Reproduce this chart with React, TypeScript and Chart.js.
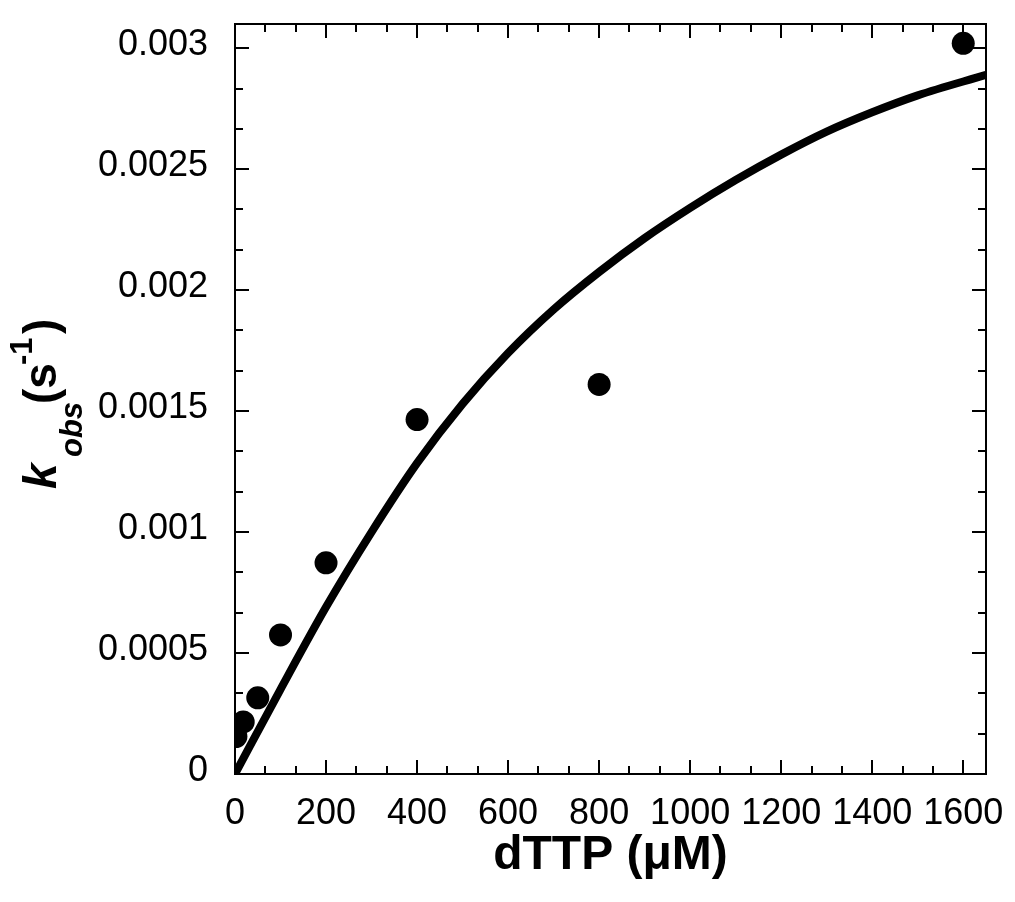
import React, { useEffect, useRef } from 'react';
import { Chart, registerables } from 'chart.js';

Chart.register(...registerables);

// Measured data (dTTP concentration in µM, k_obs in s^-1)
const dTTP = [2, 18, 50, 100, 200, 400, 800, 1600];
const kObs = [0.000155, 0.000215, 0.000315, 0.000575, 0.000873, 0.001465, 0.00161, 0.00302];

// Fitted curve
const fitX = [0, 100, 200, 300, 400, 500, 600, 700, 800, 900, 1000, 1100, 1200, 1300, 1400, 1500, 1650];
const fitY = [0, 0.00035, 0.00069, 0.001, 0.001285, 0.00153, 0.00174, 0.00192, 0.002075, 0.002215, 0.00234, 0.002455, 0.00256, 0.002655, 0.002735, 0.002805, 0.00289];

// Axis settings
const xMin = 0;
const xMax = 1650;
const xStep = 200;
const yMin = 0;
const yMax = 0.0031;
const yStep = 0.0005;

const xTitle = 'dTTP (\u03bcM)';
const yTitleMain = 'k';
const yTitleSub = 'obs';
const yTitleOpen = '(s';
const yTitleSup = '-1';
const yTitleClose = ')';

const FONT = '"Liberation Sans", Arial, Helvetica, sans-serif';

const framePlugin = {
  id: 'frameTicks',
  afterDatasetsDraw(chart: any) {
    const { ctx, chartArea: a, scales } = chart;
    const xs = scales.x;
    const ys = scales.y;
    ctx.save();
    ctx.strokeStyle = '#000';
    ctx.lineWidth = 2;
    ctx.strokeRect(a.left, a.top, a.right - a.left, a.bottom - a.top);
    const major = 14;
    const minor = 8;
    ctx.beginPath();
    const xt: number[] = xs.ticks.map((t: any) => t.value);
    const yt: number[] = ys.ticks.map((t: any) => t.value);
    const xStepV = xt[1] - xt[0];
    const yStepV = yt[1] - yt[0];
    xt.forEach((v) => {
      const p = Math.round(xs.getPixelForValue(v));
      ctx.moveTo(p, a.bottom);
      ctx.lineTo(p, a.bottom - major);
      ctx.moveTo(p, a.top);
      ctx.lineTo(p, a.top + major);
      for (let k = 1; k < 3; k++) {
        const m = v + (xStepV * k) / 3;
        if (m >= xs.max) continue;
        const q = Math.round(xs.getPixelForValue(m));
        ctx.moveTo(q, a.bottom);
        ctx.lineTo(q, a.bottom - minor);
        ctx.moveTo(q, a.top);
        ctx.lineTo(q, a.top + minor);
      }
    });
    yt.forEach((v) => {
      const p = Math.round(ys.getPixelForValue(v));
      ctx.moveTo(a.left, p);
      ctx.lineTo(a.left + major, p);
      ctx.moveTo(a.right, p);
      ctx.lineTo(a.right - major, p);
      for (let k = 1; k < 3; k++) {
        const m = v + (yStepV * k) / 3;
        if (m >= ys.max) continue;
        const q = Math.round(ys.getPixelForValue(m));
        ctx.moveTo(a.left, q);
        ctx.lineTo(a.left + minor, q);
        ctx.moveTo(a.right, q);
        ctx.lineTo(a.right - minor, q);
      }
    });
    ctx.stroke();

    // X axis title
    ctx.fillStyle = '#000';
    ctx.font = `bold 48px ${FONT}`;
    ctx.textAlign = 'center';
    ctx.textBaseline = 'alphabetic';
    ctx.fillText(xTitle, (a.left + a.right) / 2, 869);

    // Y axis title (rotated)
    const cy = 400;
    ctx.translate(56, cy);
    ctx.rotate(-Math.PI / 2);
    ctx.textAlign = 'left';
    ctx.font = `italic bold 46px ${FONT}`;
    ctx.fillText(yTitleMain, -89, 0);
    ctx.font = `italic bold 31px ${FONT}`;
    ctx.fillText(yTitleSub, -57, 26);
    ctx.font = `bold 46px ${FONT}`;
    ctx.fillText(yTitleOpen, -4, 0);
    ctx.font = `bold 31px ${FONT}`;
    ctx.fillText(yTitleSup, 35, -24);
    ctx.font = `bold 46px ${FONT}`;
    ctx.fillText(yTitleClose, 66, 0);
    ctx.restore();
  },
};

export default function App() {
  const canvasRef = useRef<HTMLCanvasElement | null>(null);

  useEffect(() => {
    if (!canvasRef.current) return;
    const chart = new Chart(canvasRef.current, {
      type: 'scatter',
      data: {
        datasets: [
          {
            label: 'fit',
            data: fitX.map((x, i) => ({ x, y: fitY[i] })),
            showLine: true,
            borderColor: '#000',
            borderWidth: 8,
            pointRadius: 0,
            cubicInterpolationMode: 'monotone',
            fill: false,
            order: 2,
          },
          {
            label: 'kobs',
            data: dTTP.map((x, i) => ({ x, y: kObs[i] })),
            backgroundColor: '#000',
            borderWidth: 0,
            pointRadius: 11.5,
            pointHoverRadius: 11.5,
            order: 1,
          },
        ],
      } as any,
      options: {
        responsive: false,
        animation: false,
        events: [],
        layout: { padding: { left: 0, top: 24, right: 29, bottom: 0 } },
        plugins: {
          legend: { display: false },
          tooltip: { enabled: false },
          title: { display: false },
        },
        scales: {
          x: {
            type: 'linear',
            position: 'bottom',
            min: xMin,
            max: xMax,
            grid: { display: false },
            border: { display: false },
            ticks: {
              stepSize: xStep,
              includeBounds: false,
              autoSkip: false,
              maxRotation: 0,
              padding: 10,
              color: '#000',
              font: { family: FONT, size: 36 },
              callback: (v: any) => String(v),
            },
            afterFit: (s: any) => {
              s.height = 128;
              s.paddingLeft = 0;
              s.paddingRight = 0;
            },
          },
          y: {
            type: 'linear',
            position: 'left',
            min: yMin,
            max: yMax,
            grid: { display: false },
            border: { display: false },
            ticks: {
              stepSize: yStep,
              includeBounds: false,
              autoSkip: false,
              padding: 19,
              labelOffset: -3,
              color: '#000',
              font: { family: FONT, size: 36 },
              callback: (v: any) => String(parseFloat(Number(v).toFixed(6))),
            },
            afterFit: (s: any) => {
              s.width = 235;
              s.paddingTop = 0;
              s.paddingBottom = 0;
            },
          },
        },
      } as any,
      plugins: [framePlugin],
    });
    return () => chart.destroy();
  }, []);

  return (
    <div style={{ position: 'absolute', left: 0, top: 0, width: 1015, height: 902, background: '#fff' }}>
      <canvas ref={canvasRef} width={1015} height={902} style={{ display: 'block' }} />
    </div>
  );
}
